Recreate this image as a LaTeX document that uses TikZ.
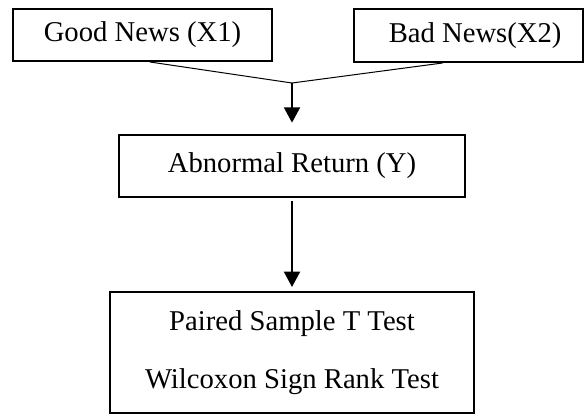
\documentclass[tikz,border=0pt]{standalone}
\usepackage{fontspec}
\setmainfont{Liberation Serif}
\usetikzlibrary{arrows.meta,calc}
\begin{document}
\begin{tikzpicture}[x=0.75pt,y=-0.75pt,
  box/.style={draw,line width=1.5pt,inner sep=0pt,align=center,
    font=\fontsize{21.5}{43.5}\selectfont},
  thin/.style={line width=0.75pt},
  arr/.style={line width=1.5pt,-{Triangle[width=12pt,length=11.5pt]}}]
\useasboundingbox (0,0) rectangle (585,415);
\node[box,minimum width=259*0.75pt,minimum height=52*0.75pt] (gn) at (142.5,35) {Good News (X1)};
\node[box,minimum width=229*0.75pt,minimum height=53*0.75pt] (bn) at (468.5,35.5) {\hspace*{10pt}Bad News(X2)};
\node[box,minimum width=346*0.75pt,minimum height=62*0.75pt] (ar) at (292,166) {Abnormal Return (Y)};
\node[box,minimum width=364*0.75pt,minimum height=121*0.75pt] (pt) at (292,352.5) {Paired Sample T Test\\Wilcoxon Sign Rank Test};
\coordinate (J) at (292,83);
\coordinate (g1) at ($(gn.south)+(7.5,0)$);
\coordinate (b1) at ($(bn.south)+(-26,0)$);
\draw[thin] (g1) -- (J) -- (b1);
\draw[arr,shorten >=8.5pt] (J) -- (ar.north);
\draw[arr,shorten <=2.5pt,shorten >=3pt] (ar.south) -- (pt.north);
\end{tikzpicture}
\end{document}
